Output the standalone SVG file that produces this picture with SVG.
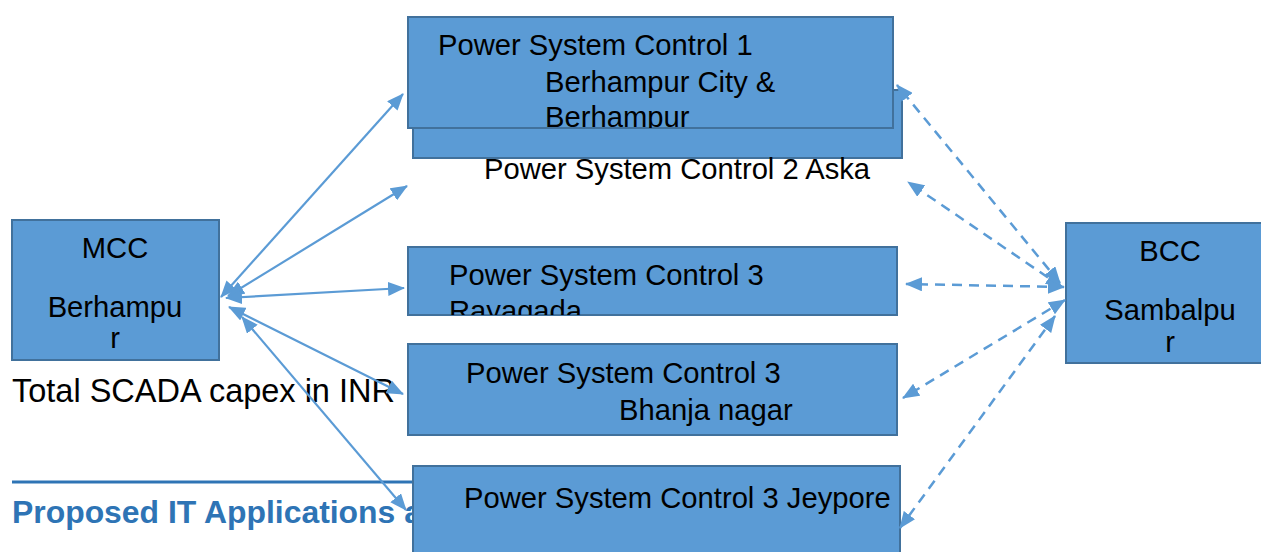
<svg xmlns="http://www.w3.org/2000/svg" width="1261" height="552" viewBox="0 0 1261 552">
  <style>
    .box { fill: #5B9BD5; stroke: #41719C; stroke-width: 2; }
    .lbl { font-family: "Liberation Sans", Arial, sans-serif; font-size: 29.2px; fill: #000; }
    .body { font-family: "Liberation Sans", Arial, sans-serif; font-size: 32.5px; fill: #000; }
    .head { font-family: "Liberation Sans", Arial, sans-serif; font-size: 31.9px; font-weight: bold; fill: #2E74B5; }
    .link { fill: none; stroke: #5B9BD5; stroke-width: 2.2; marker-start: url(#arr); marker-end: url(#arr); }
    .dash { stroke-width: 2.5; stroke-dasharray: 10 7; }
  </style>
  <defs>
    <marker id="arr" viewBox="0 0 17 14" refX="16" refY="7" markerWidth="17" markerHeight="14" markerUnits="userSpaceOnUse" orient="auto-start-reverse">
      <path d="M0,0 L17,7 L0,14 z" fill="#5B9BD5"/>
    </marker>
    <clipPath id="clip-psc1"><rect x="408" y="17" width="485" height="111"/></clipPath>
    <clipPath id="clip-psc3r"><rect x="408" y="247" width="489" height="68"/></clipPath>
  </defs>

  <!-- page text behind the drawing -->
  <g id="page-text">
    <text class="body" x="12" y="402">Total SCADA capex in INR</text>
    <line x1="12" y1="482" x2="414" y2="482" stroke="#2E74B5" stroke-width="3"/>
    <text class="head" x="12" y="523">Proposed IT Applications a</text>
  </g>

  <g id="mcc">
    <rect class="box" x="12" y="220" width="207" height="140"/>
    <text class="lbl" x="115" y="258" text-anchor="middle">MCC</text>
    <text class="lbl" x="115" y="317" text-anchor="middle">Berhampu</text>
    <text class="lbl" x="115" y="348" text-anchor="middle">r</text>
  </g>

  <g id="psc2">
    <rect class="box" x="413" y="90" width="489" height="68"/>
    <text class="lbl" x="484" y="179">Power System Control 2 Aska</text>
  </g>

  <g id="psc1">
    <rect class="box" x="408" y="17" width="485" height="111"/>
    <g clip-path="url(#clip-psc1)">
      <text class="lbl" x="438" y="55">Power System Control 1</text>
      <text class="lbl" x="545" y="92">Berhampur City &amp;</text>
      <text class="lbl" x="545" y="127">Berhampur</text>
    </g>
  </g>

  <g id="psc3-rayagada">
    <rect class="box" x="408" y="247" width="489" height="68"/>
    <g clip-path="url(#clip-psc3r)">
      <text class="lbl" x="449" y="285">Power System Control 3</text>
      <text class="lbl" x="449" y="321">Rayagada</text>
    </g>
  </g>

  <g id="psc3-bhanjanagar">
    <rect class="box" x="408" y="344" width="489" height="91"/>
    <text class="lbl" x="466" y="383">Power System Control 3</text>
    <text class="lbl" x="619" y="420">Bhanja nagar</text>
  </g>

  <g id="psc3-jeypore">
    <rect class="box" x="413" y="466" width="487" height="100"/>
    <text class="lbl" x="464" y="508">Power System Control 3 Jeypore</text>
  </g>

  <g id="bcc">
    <rect class="box" x="1066" y="223" width="200" height="140"/>
    <text class="lbl" x="1170" y="261" text-anchor="middle">BCC</text>
    <text class="lbl" x="1170" y="320" text-anchor="middle">Sambalpu</text>
    <text class="lbl" x="1170" y="352" text-anchor="middle">r</text>
  </g>

  <g id="connectors">
    <!-- MCC to the control centres -->
    <line class="link" x1="221" y1="297" x2="403" y2="94"/>
    <line class="link" x1="228" y1="296" x2="407" y2="186"/>
    <line class="link" x1="226" y1="298" x2="404" y2="288"/>
    <line class="link" x1="229" y1="307" x2="403" y2="394"/>
    <line class="link" x1="242" y1="317" x2="406" y2="510"/>
    <!-- BCC to the control centres -->
    <line class="link dash" x1="1060" y1="283" x2="897" y2="85"/>
    <line class="link dash" x1="1062" y1="287" x2="908" y2="182"/>
    <line class="link dash" x1="1064" y1="287" x2="906" y2="284"/>
    <line class="link dash" x1="1065" y1="300" x2="903" y2="398"/>
    <line class="link dash" x1="1055" y1="316" x2="900" y2="528"/>
  </g>
</svg>
